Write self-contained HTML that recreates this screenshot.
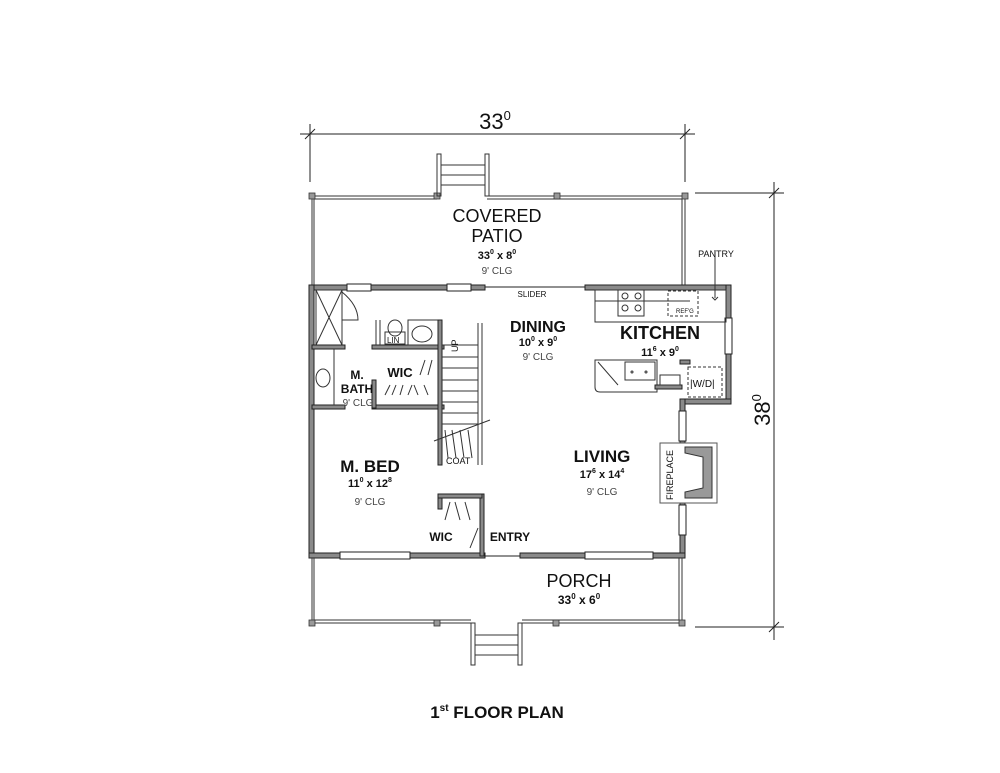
<!DOCTYPE html>
<html><head><meta charset="utf-8"><style>
html,body{margin:0;padding:0;background:#fff}
svg{display:block}
text{font-family:"Liberation Sans",Arial,sans-serif;fill:#111}
.b{font-weight:bold}
.w{fill:#8a8a8a;stroke:#222;stroke-width:1}
.l{stroke:#222;stroke-width:1;fill:none}
.t{stroke:#333;stroke-width:1;fill:none}
.p{fill:#999;stroke:#333;stroke-width:0.8}
.s{font-size:10px;fill:#444}
</style></head><body>
<svg width="1000" height="773" viewBox="0 0 1000 773" xmlns="http://www.w3.org/2000/svg">
<!-- dimensions -->
<line class="l" x1="300" y1="134" x2="695" y2="134"/>
<line class="l" x1="310" y1="124" x2="310" y2="182"/>
<line class="l" x1="685" y1="124" x2="685" y2="182"/>
<line class="l" x1="305" y1="139" x2="315" y2="129"/>
<line class="l" x1="680" y1="139" x2="690" y2="129"/>
<text x="495" y="129" font-size="22" text-anchor="middle">33<tspan font-size="13" dy="-9">0</tspan></text>
<line class="l" x1="774" y1="182" x2="774" y2="640"/>
<line class="l" x1="695" y1="193" x2="784" y2="193"/>
<line class="l" x1="695" y1="627" x2="784" y2="627"/>
<line class="l" x1="769" y1="198" x2="779" y2="188"/>
<line class="l" x1="769" y1="632" x2="779" y2="622"/>
<text transform="translate(770,410) rotate(-90)" font-size="22" text-anchor="middle">38<tspan font-size="13" dy="-9">0</tspan></text>

<!-- patio -->
<polyline class="t" points="312,287 312,196 437,196"/>
<polyline class="t" points="314,287 314,199 437,199"/>
<polyline class="t" points="487,196 685,196 685,287"/>
<polyline class="t" points="487,199 682,199 682,287"/>
<rect class="p" x="309" y="193" width="6" height="6"/><rect class="p" x="434" y="193" width="6" height="6"/>
<rect class="p" x="554" y="193" width="6" height="6"/><rect class="p" x="682" y="193" width="6" height="6"/>
<!-- top stairs -->
<rect class="t" x="437" y="154" width="4" height="42"/><rect class="t" x="485" y="154" width="4" height="42"/>
<line class="t" x1="441" y1="165" x2="485" y2="165"/><line class="t" x1="441" y1="175" x2="485" y2="175"/><line class="t" x1="441" y1="185" x2="485" y2="185"/>

<!-- exterior walls -->
<rect class="w" x="309" y="285" width="176" height="5"/>
<rect class="w" x="585" y="285" width="146" height="5"/>
<line class="l" x1="485" y1="287" x2="585" y2="287"/>
<rect class="w" x="726" y="285" width="5" height="118"/>
<rect class="w" x="680" y="399" width="51" height="5"/>
<rect class="w" x="680" y="399" width="5" height="158"/>
<rect class="w" x="309" y="285" width="5" height="272"/>
<rect class="w" x="309" y="553" width="176" height="5"/>
<rect class="w" x="520" y="553" width="165" height="5"/>
<line class="l" x1="485" y1="556" x2="520" y2="556"/>
<!-- windows -->
<rect x="347" y="284" width="24" height="7" fill="#fff" stroke="#222"/>
<rect x="447" y="284" width="24" height="7" fill="#fff" stroke="#222"/>
<rect x="340" y="552" width="70" height="7" fill="#fff" stroke="#222"/>
<rect x="585" y="552" width="68" height="7" fill="#fff" stroke="#222"/>
<rect x="725" y="318" width="7" height="36" fill="#fff" stroke="#222"/>
<rect x="679" y="411" width="7" height="30" fill="#fff" stroke="#222"/>
<rect x="679" y="505" width="7" height="30" fill="#fff" stroke="#222"/>

<!-- porch -->
<polyline class="t" points="312,558 312,623 471,623"/>
<polyline class="t" points="314,558 314,620 471,620"/>
<polyline class="t" points="522,623 682,623 682,558"/>
<polyline class="t" points="522,620 679,620 679,558"/>
<rect class="p" x="309" y="620" width="6" height="6"/><rect class="p" x="434" y="620" width="6" height="6"/>
<rect class="p" x="553" y="620" width="6" height="6"/><rect class="p" x="679" y="620" width="6" height="6"/>
<rect class="t" x="471" y="623" width="4" height="42"/><rect class="t" x="518" y="623" width="4" height="42"/>
<line class="t" x1="475" y1="635" x2="518" y2="635"/><line class="t" x1="475" y1="645" x2="518" y2="645"/><line class="t" x1="475" y1="655" x2="518" y2="655"/>

<!-- bath -->
<rect class="t" x="316" y="290" width="26" height="55"/>
<line class="t" x1="316" y1="290" x2="342" y2="345"/><line class="t" x1="342" y1="290" x2="316" y2="345"/>
<path class="t" d="M342 292 Q358 305 358 320 L342 320"/>
<rect class="w" x="312" y="345" width="33" height="4"/>
<rect class="w" x="312" y="405" width="33" height="4"/>
<line class="t" x1="334" y1="349" x2="334" y2="405"/>
<ellipse class="t" cx="323" cy="378" rx="7" ry="9"/>
<!-- WIC upper -->
<rect class="w" x="372" y="345" width="72" height="4"/>
<rect class="w" x="372" y="405" width="72" height="4"/>
<rect class="w" x="372" y="380" width="4" height="28"/>
<line class="t" x1="376" y1="320" x2="376" y2="345"/><line class="t" x1="380" y1="320" x2="380" y2="345"/>
<ellipse class="t" cx="395" cy="328" rx="7" ry="8"/><rect class="t" x="385" y="332" width="20" height="12"/>
<text x="387" y="343" font-size="8">LIN</text>
<rect class="t" x="408" y="320" width="32" height="25"/><ellipse class="t" cx="422" cy="334" rx="10" ry="8"/>
<path class="t" d="M385 395 L390 385 M392 395 L396 385 M400 395 L403 385 M408 395 L412 385 M418 395 L414 385 M428 395 L424 385 M420 375 L425 360 M428 375 L432 360"/>
<!-- stairs -->
<rect class="w" x="438" y="320" width="4" height="145"/>
<line class="t" x1="482" y1="323" x2="482" y2="465"/>
<line class="t" x1="478" y1="323" x2="478" y2="465"/>
<g class="t">
<line x1="442" y1="345" x2="478" y2="345"/><line x1="442" y1="357" x2="478" y2="357"/><line x1="442" y1="368" x2="478" y2="368"/>
<line x1="442" y1="380" x2="478" y2="380"/><line x1="442" y1="391" x2="478" y2="391"/><line x1="442" y1="402" x2="478" y2="402"/>
<line x1="442" y1="413" x2="478" y2="413"/><line x1="442" y1="424" x2="478" y2="424"/>
<line x1="434" y1="441" x2="490" y2="420"/>
</g>
<text transform="translate(458,352) rotate(-90)" font-size="9">UP</text>
<path class="t" d="M445 430 L448 458 M452 430 L456 458 M460 430 L464 458 M468 430 L472 458"/>
<text x="446" y="464" font-size="9" fill="#444">COAT</text>
<!-- lower WIC -->
<rect class="w" x="438" y="494" width="4" height="15"/>
<rect class="w" x="480" y="494" width="4" height="62"/>
<rect class="w" x="438" y="494" width="44" height="4"/>
<path class="t" d="M445 520 L450 502 M455 502 L460 520 M465 502 L470 520 M470 548 L478 528"/>

<!-- kitchen -->
<rect class="t" x="595" y="290" width="131" height="32"/>
<line class="t" x1="595" y1="301" x2="690" y2="301"/>
<rect class="t" x="618" y="290" width="26" height="26"/>
<circle class="t" cx="625" cy="296" r="3"/><circle class="t" cx="638" cy="296" r="3"/><circle class="t" cx="625" cy="308" r="3"/><circle class="t" cx="638" cy="308" r="3"/>
<rect x="668" y="291" width="30" height="25" fill="none" stroke="#333" stroke-dasharray="3,2"/>
<text x="676" y="313" font-size="6">REF'G</text>
<path class="t" d="M712 297 L715 300 L718 297"/>
<line class="t" x1="715" y1="250" x2="715" y2="298"/>
<path class="t" d="M595 360 L657 360 L657 392 L600 392 Q595 392 595 387 Z"/>
<rect class="t" x="625" y="362" width="30" height="18"/>
<circle class="t" cx="632" cy="372" r="1"/><circle class="t" cx="646" cy="372" r="1"/>
<line class="t" x1="598" y1="362" x2="618" y2="385"/>
<rect class="w" x="655" y="385" width="27" height="4"/>
<rect class="t" x="660" y="375" width="20" height="10"/>
<rect class="w" x="680" y="360" width="10" height="4"/>
<rect x="688" y="367" width="34" height="30" fill="none" stroke="#333" stroke-dasharray="3,2"/>
<text x="690" y="387" font-size="10" fill="#333">|W/D|</text>
<!-- fireplace -->
<rect x="660" y="443" width="57" height="60" fill="#fff" stroke="#555"/>
<path d="M685 447 L712 447 L712 498 L685 498 L685 492 L703 488 L703 457 L685 453 Z" fill="#999" stroke="#333"/>
<text transform="translate(673,500) rotate(-90)" font-size="9" fill="#444">FIREPLACE</text>

<!-- labels -->
<g text-anchor="middle">
<text x="497" y="222" font-size="18">COVERED</text>
<text x="497" y="242" font-size="18">PATIO</text>
<text x="497" y="259" font-size="11" class="b">33<tspan font-size="7" dy="-5">0</tspan><tspan dy="5"> x 8</tspan><tspan font-size="7" dy="-5">0</tspan></text>
<text x="497" y="274" class="s">9' CLG</text>
<text x="532" y="297" font-size="8" fill="#333">SLIDER</text>
<text x="716" y="257" font-size="9" fill="#333">PANTRY</text>
<text x="538" y="332" font-size="16" class="b">DINING</text>
<text x="538" y="346" font-size="11" class="b">10<tspan font-size="7" dy="-5">0</tspan><tspan dy="5"> x 9</tspan><tspan font-size="7" dy="-5">0</tspan></text>
<text x="538" y="360" class="s">9' CLG</text>
<text x="660" y="339" font-size="18" class="b">KITCHEN</text>
<text x="660" y="356" font-size="11" class="b">11<tspan font-size="7" dy="-5">6</tspan><tspan dy="5"> x 9</tspan><tspan font-size="7" dy="-5">0</tspan></text>
<text x="357" y="379" font-size="12" class="b">M.</text>
<text x="357" y="393" font-size="12" class="b">BATH</text>
<text x="358" y="406" class="s">9' CLG</text>
<text x="400" y="377" font-size="13" class="b">WIC</text>
<text x="602" y="462" font-size="17" class="b">LIVING</text>
<text x="602" y="478" font-size="11" class="b">17<tspan font-size="7" dy="-5">6</tspan><tspan dy="5"> x 14</tspan><tspan font-size="7" dy="-5">4</tspan></text>
<text x="602" y="495" class="s">9' CLG</text>
<text x="370" y="472" font-size="17" class="b">M. BED</text>
<text x="370" y="487" font-size="11" class="b">11<tspan font-size="7" dy="-5">0</tspan><tspan dy="5"> x 12</tspan><tspan font-size="7" dy="-5">8</tspan></text>
<text x="370" y="505" class="s">9' CLG</text>
<text x="441" y="541" font-size="12" class="b">WIC</text>
<text x="510" y="541" font-size="12" class="b">ENTRY</text>
<text x="579" y="587" font-size="18">PORCH</text>
<text x="579" y="604" font-size="12" class="b">33<tspan font-size="8" dy="-5">0</tspan><tspan dy="5"> x 6</tspan><tspan font-size="8" dy="-5">0</tspan></text>
<text x="497" y="718" font-size="17" class="b">1<tspan font-size="10" dy="-7">st</tspan><tspan dy="7"> FLOOR PLAN</tspan></text>
</g>
</svg>
</body></html>
